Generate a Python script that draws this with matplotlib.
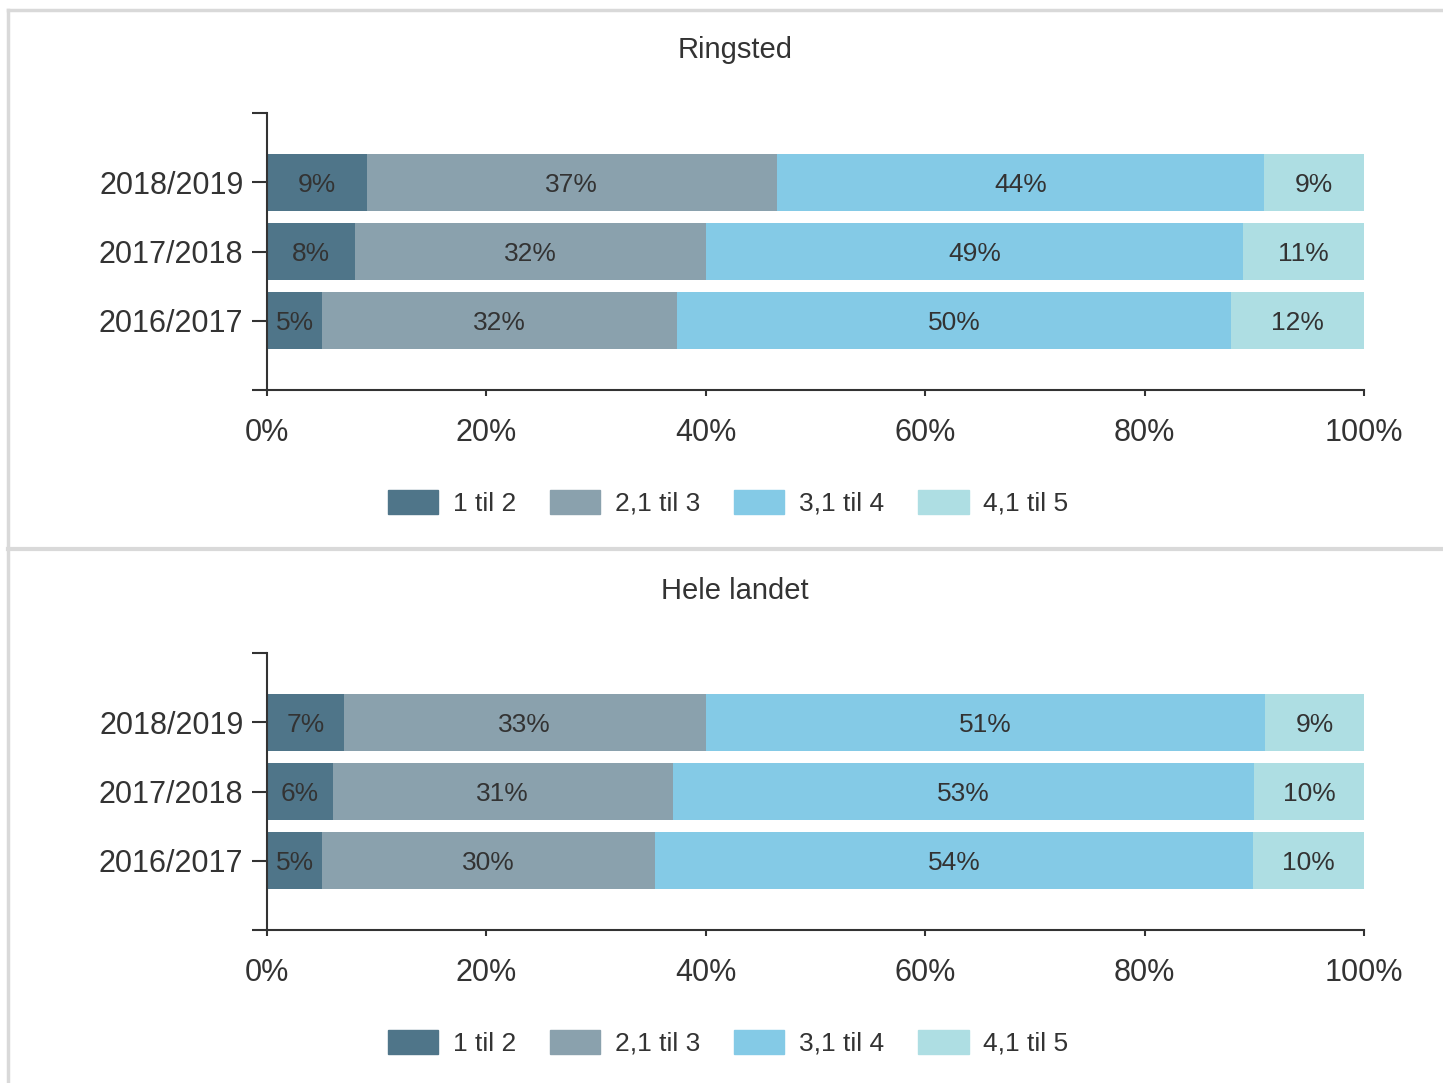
import numpy as np
import matplotlib
matplotlib.use('Agg')
from matplotlib import pyplot as plt
from matplotlib.lines import Line2D

plt.rcParams['font.family'] = ['Liberation Sans', 'DejaVu Sans']

years = ['2016/2017', '2017/2018', '2018/2019']
categories = ['1 til 2', '2,1 til 3', '3,1 til 4', '4,1 til 5']
colors = ['#4f7589', '#8aa1ad', '#84cae6', '#aedee3']

# values per year (bottom to top), in percent
ringsted = {
    '1 til 2': [5, 8, 9],
    '2,1 til 3': [32, 32, 37],
    '3,1 til 4': [50, 49, 44],
    '4,1 til 5': [12, 11, 9],
}
hele_landet = {
    '1 til 2': [5, 6, 7],
    '2,1 til 3': [30, 31, 33],
    '3,1 til 4': [54, 53, 51],
    '4,1 til 5': [10, 10, 9],
}
titles = ['Ringsted', 'Hele landet']
text_color = '#333333'


def draw_panel(ax, data, title, title_y, legend_y):
    y = np.arange(len(years))
    totals = np.sum([data[c] for c in categories], axis=0)
    left = np.zeros(len(years))
    handles = []
    for cat, col in zip(categories, colors):
        vals = np.array(data[cat]) / totals
        ax.barh(y, vals, left=left, height=0.82, color=col, edgecolor='none')
        for yy, l, v, raw in zip(y, left, vals, data[cat]):
            ax.text(l + v / 2, yy, '%d%%' % raw, ha='center', va='center_baseline',
                    fontsize=19, color=text_color)
        left = left + vals
        handles.append(plt.Rectangle((0, 0), 1, 1, color=col))

    ax.set_xlim(0, 1)
    ax.set_ylim(-1, 3)
    ax.set_xticks(np.linspace(0, 1, 6))
    ax.set_xticklabels(['0%', '20%', '40%', '60%', '80%', '100%'])
    ax.set_yticks(y)
    ax.set_yticklabels(years)
    ax.set_yticks([-1, 3], minor=True)
    ax.tick_params(axis='x', direction='out', length=4, width=1.5, pad=16,
                   labelsize=22, colors=text_color)
    ax.tick_params(axis='y', which='both', direction='out', length=11, width=1.5,
                   pad=6, labelsize=22, colors=text_color)
    ax.spines['top'].set_visible(False)
    ax.spines['right'].set_visible(False)
    for side in ['left', 'bottom']:
        ax.spines[side].set_color('#333333')
        ax.spines[side].set_linewidth(1.5)

    fig.text(735 / 1443, 1 - title_y / 1083, title, ha='center', va='center',
             fontsize=21, color=text_color)
    fig.legend(handles, categories, loc='center', ncol=4,
               bbox_to_anchor=(728 / 1443, 1 - legend_y / 1083),
               frameon=False, fontsize=19, handlelength=1.9, handleheight=1.0,
               columnspacing=1.3, handletextpad=0.55, labelcolor=text_color)


fig = plt.figure(figsize=(14.43, 10.83), dpi=100)
ax1 = fig.add_axes([267 / 1443, 1 - 390 / 1083, 1097 / 1443, 277 / 1083])
ax2 = fig.add_axes([267 / 1443, 1 - 930 / 1083, 1097 / 1443, 277 / 1083])
draw_panel(ax1, ringsted, titles[0], 50, 503)
draw_panel(ax2, hele_landet, titles[1], 591, 1043)

# frame lines
border = '#d9d9d9'
fig.add_artist(Line2D([8 / 1443, 1], [1 - 10 / 1083, 1 - 10 / 1083], color=border, lw=2.5))
fig.add_artist(Line2D([8 / 1443, 8 / 1443], [0, 1 - 10 / 1083], color=border, lw=2.5))
fig.add_artist(Line2D([8 / 1443, 1], [1 - 549 / 1083, 1 - 549 / 1083], color=border, lw=3))

fig.savefig('out.png', dpi=100)
